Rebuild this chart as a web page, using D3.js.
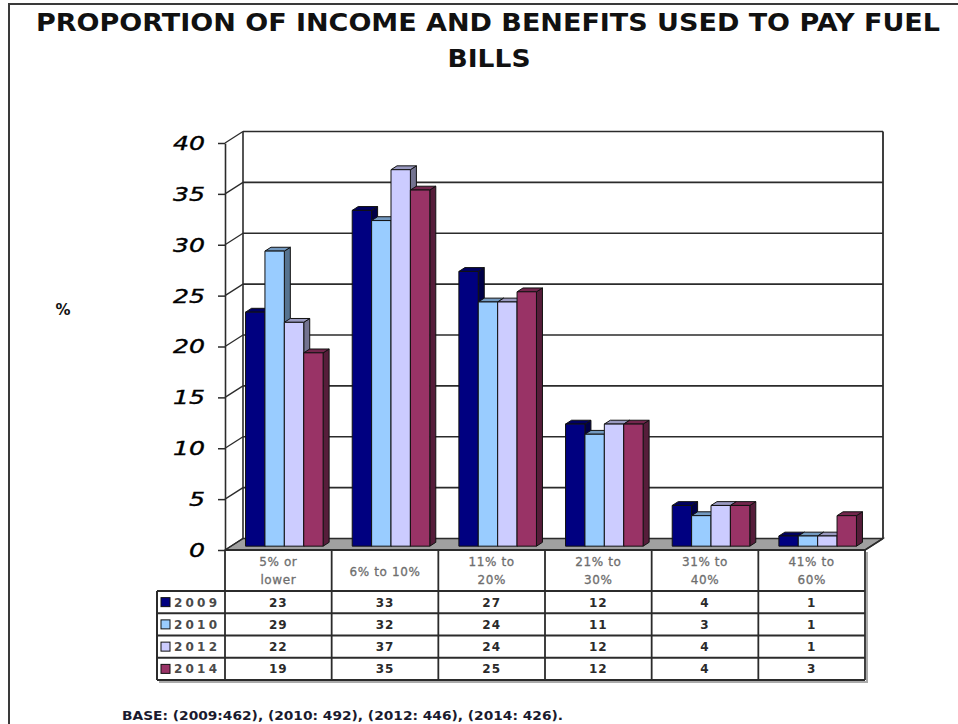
<!DOCTYPE html>
<html>
<head>
<meta charset="utf-8">
<script src="https://cdn.jsdelivr.net/npm/d3@7/dist/d3.min.js"></script>
<style>
  html, body { margin: 0; padding: 0; background: #fff; }
  svg { display: block; }
</style>
</head>
<body>
<svg id="chart" width="958" height="724"></svg>
<script>
// ---- data ----
const categories = ["5% or lower", "6% to 10%", "11% to 20%", "21% to 30%", "31% to 40%", "41% to 60%"];
const categoryLines = [["5% or", "lower"], ["6% to 10%"], ["11% to", "20%"], ["21% to", "30%"], ["31% to", "40%"], ["41% to", "60%"]];
const years = ["2009", "2010", "2012", "2014"];
const values2009 = [23, 33, 27, 12, 4, 1];
const values2010 = [29, 32, 24, 11, 3, 1];
const values2012 = [22, 37, 24, 12, 4, 1];
const values2014 = [19, 35, 25, 12, 4, 3];
const yTicks = [0, 5, 10, 15, 20, 25, 30, 35, 40];
const titleLines = ["PROPORTION  OF INCOME  AND BENEFITS USED TO PAY FUEL", "BILLS"];
const baseNote = "BASE: (2009:462), (2010: 492), (2012: 446), (2014: 426).";

const seriesValues = [values2009, values2010, values2012, values2014];
const seriesColors = ["#000080", "#99ccff", "#ccccff", "#993366"];

// ---- layout ----
const svg = d3.select("#chart");
const plotLeft = 225, plotRight = 865, floorY = 550, topY = 143;
const DX = 18, DY = -11.5;          // full depth offset of the 3D box
const tableBottom = 680, headerBottom = 591, legendLeft = 157;

const x = d3.scaleBand().domain(categories).range([plotLeft, plotRight]);
const xs = d3.scaleBand().domain(years).range([0, x.bandwidth()]).paddingInner(0).paddingOuter(0.75);
const y = d3.scaleLinear().domain([0, 40]).range([floorY, topY]);

const ink = "#2b2b2b";

// outer frame
svg.append("path").attr("d", "M9,724 L9,4 L958,4").attr("fill", "none").attr("stroke", "#3a3a3a").attr("stroke-width", 2);

// title
svg.append("text").attr("x", 488).attr("y", 31).attr("text-anchor", "middle")
  .attr("font-family", "DejaVu Sans").attr("font-weight", "bold").attr("font-size", 24)
  .attr("textLength", 904).attr("lengthAdjust", "spacingAndGlyphs").attr("fill", "#111")
  .text(titleLines[0]);
svg.append("text").attr("x", 489).attr("y", 67).attr("text-anchor", "middle")
  .attr("font-family", "DejaVu Sans").attr("font-weight", "bold").attr("font-size", 24)
  .attr("textLength", 83).attr("lengthAdjust", "spacingAndGlyphs").attr("fill", "#111")
  .text(titleLines[1]);

// axis unit
svg.append("text").attr("x", 63).attr("y", 315).attr("text-anchor", "middle")
  .attr("font-family", "DejaVu Sans").attr("font-weight", "bold").attr("font-size", 15)
  .attr("fill", "#111").text("%");

// ---- walls ----
const walls = svg.append("g");
const bx0 = plotLeft + DX, bx1 = plotRight + DX;
// floor
walls.append("polygon")
  .attr("points", [[plotLeft, floorY], [plotRight, floorY], [bx1, y(0) + DY], [bx0, y(0) + DY]].join(" "))
  .attr("fill", "#a0a0a0").attr("stroke", ink).attr("stroke-width", 1.3);
// back wall gridlines
walls.selectAll("line.grid").data(yTicks.filter(d => d > 0)).join("line")
  .attr("x1", bx0).attr("x2", bx1)
  .attr("y1", d => y(d) + DY).attr("y2", d => y(d) + DY)
  .attr("stroke", ink).attr("stroke-width", 1.6);
// side wall diagonals
walls.selectAll("line.diag").data(yTicks).join("line")
  .attr("x1", plotLeft).attr("x2", bx0)
  .attr("y1", d => y(d)).attr("y2", d => y(d) + DY)
  .attr("stroke", ink).attr("stroke-width", 1.3);
// back wall verticals
walls.append("line").attr("x1", bx0).attr("x2", bx0).attr("y1", y(40) + DY).attr("y2", y(0) + DY)
  .attr("stroke", ink).attr("stroke-width", 1.6);
walls.append("line").attr("x1", bx1).attr("x2", bx1).attr("y1", y(40) + DY).attr("y2", y(0) + DY)
  .attr("stroke", ink).attr("stroke-width", 1.8);

// ---- bars ----
const bars = svg.append("g");
const t0 = 1 / 3, t1 = 2 / 3;
categories.forEach((cat, ci) => {
  years.forEach((yr, si) => {
    const v = seriesValues[si][ci];
    const col = d3.color(seriesColors[si]);
    const xl = x(cat) + xs(yr), xr = xl + xs.bandwidth();
    const fx = t0 * DX, fy = t0 * DY, bxo = t1 * DX, byo = t1 * DY;
    const yb = y(0), yt = y(v);
    const g = bars.append("g").attr("stroke", "#111").attr("stroke-width", 1).attr("stroke-linejoin", "round");
    // right side
    g.append("polygon").attr("points", [[xr + fx, yb + fy], [xr + bxo, yb + byo], [xr + bxo, yt + byo], [xr + fx, yt + fy]].join(" "))
      .attr("fill", col.darker(1.6));
    // top
    g.append("polygon").attr("points", [[xl + fx, yt + fy], [xr + fx, yt + fy], [xr + bxo, yt + byo], [xl + bxo, yt + byo]].join(" "))
      .attr("fill", col.darker(0.8));
    // front
    g.append("rect").attr("x", xl + fx).attr("y", yt + fy).attr("width", xr - xl).attr("height", yb - yt)
      .attr("fill", col);
  });
});

// ---- y axis ----
const axis = d3.axisLeft(y).tickValues(yTicks).tickSize(7).tickSizeOuter(0).tickPadding(13).tickFormat(d3.format("d"));
const ag = svg.append("g").attr("transform", `translate(${plotLeft},0)`).call(axis);
ag.select(".domain").attr("stroke", ink).attr("stroke-width", 1.6);
ag.selectAll(".tick line").attr("stroke", ink).attr("stroke-width", 1.5);
ag.selectAll(".tick text")
  .attr("font-family", "DejaVu Sans").attr("font-style", "italic").attr("font-size", 20)
  .attr("fill", "#000").attr("stroke", "#000").attr("stroke-width", 0.4)
  .attr("textLength", d => String(d).length * 16).attr("lengthAdjust", "spacingAndGlyphs");

// ---- data table ----
const table = svg.append("g");
const rowH = (tableBottom - headerBottom) / years.length;
const colEdges = categories.map(c => x(c)).concat([plotRight]);
// table shadow
table.append("path").attr("d", `M${legendLeft + 2},${tableBottom + 2} L${plotRight + 2},${tableBottom + 2} L${plotRight + 2},${floorY + 2}`)
  .attr("fill", "none").attr("stroke", "#aaa").attr("stroke-width", 2);
// verticals
table.selectAll("line.v").data(colEdges).join("line")
  .attr("x1", d => d).attr("x2", d => d).attr("y1", floorY).attr("y2", tableBottom)
  .attr("stroke", ink).attr("stroke-width", 1.8);
table.append("line").attr("x1", legendLeft).attr("x2", legendLeft).attr("y1", headerBottom).attr("y2", tableBottom)
  .attr("stroke", ink).attr("stroke-width", 2);
// horizontals
table.selectAll("line.h").data(d3.range(years.length + 1)).join("line")
  .attr("x1", legendLeft).attr("x2", plotRight)
  .attr("y1", i => headerBottom + i * rowH).attr("y2", i => headerBottom + i * rowH)
  .attr("stroke", ink).attr("stroke-width", 1.8);
table.append("line").attr("x1", plotLeft).attr("x2", plotRight).attr("y1", floorY).attr("y2", floorY)
  .attr("stroke", ink).attr("stroke-width", 1.8);
// floor right edge
table.append("line").attr("x1", plotRight).attr("x2", bx1).attr("y1", floorY).attr("y2", y(0) + DY)
  .attr("stroke", ink).attr("stroke-width", 1.5);

// header labels
categories.forEach((cat, ci) => {
  const lines = categoryLines[ci];
  const cx = x(cat) + x.bandwidth() / 2;
  const startY = lines.length === 1 ? 576 : 566;
  lines.forEach((ln, li) => {
    table.append("text").attr("x", cx).attr("y", startY + li * 18).attr("text-anchor", "middle")
      .attr("font-family", "DejaVu Sans").attr("font-size", 12).attr("letter-spacing", 0.6)
      .attr("fill", "#6e6e6e").attr("stroke", "#6e6e6e").attr("stroke-width", 0.3).text(ln);
  });
});

// rows
years.forEach((yr, si) => {
  const cy = headerBottom + si * rowH + rowH / 2;
  // legend key
  table.append("rect").attr("x", 161).attr("y", cy - 4.5).attr("width", 9).attr("height", 9)
    .attr("fill", seriesColors[si]).attr("stroke", "#111").attr("stroke-width", 1);
  table.append("text").attr("x", 174).attr("y", cy + 4.5)
    .attr("font-family", "DejaVu Sans").attr("font-weight", "bold").attr("font-size", 12)
    .attr("letter-spacing", 3.2).attr("fill", "#4a4a4a").text(yr);
  categories.forEach((cat, ci) => {
    table.append("text").attr("x", x(cat) + x.bandwidth() / 2).attr("y", cy + 4.5).attr("text-anchor", "middle")
      .attr("font-family", "DejaVu Sans").attr("font-weight", "bold").attr("font-size", 12)
      .attr("letter-spacing", 1).attr("fill", "#2a2a2a").text(seriesValues[si][ci]);
  });
});

// base note
svg.append("text").attr("x", 122).attr("y", 720)
  .attr("font-family", "DejaVu Sans").attr("font-weight", "bold").attr("font-size", 12)
  .attr("textLength", 441).attr("lengthAdjust", "spacingAndGlyphs")
  .attr("fill", "#1a1a2e").text(baseNote);
</script>
</body>
</html>
